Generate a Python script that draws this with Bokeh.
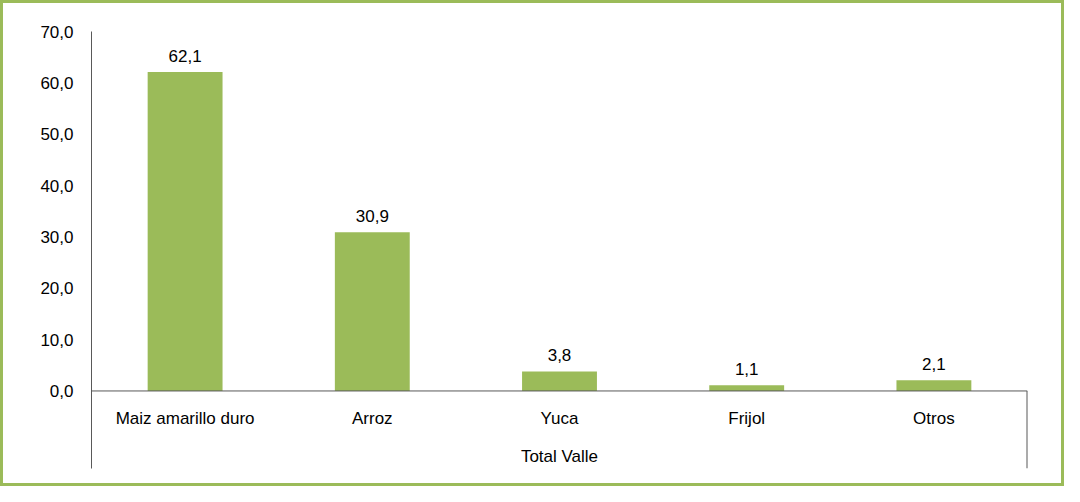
from bokeh.plotting import figure
from bokeh.models import Range1d, FactorRange, FixedTicker, ColumnDataSource, LabelSet, Span
from bokeh.core.properties import value
from bokeh.embed import file_html
from bokeh.resources import INLINE

# ---- data ----
group = "Total Valle"
categories = ["Maiz amarillo duro", "Arroz", "Yuca", "Frijol", "Otros"]
values = [62.1, 30.9, 3.8, 1.1, 2.1]
y_ticks = [0, 10, 20, 30, 40, 50, 60, 70]
y_tick_labels = ["0,0", "10,0", "20,0", "30,0", "40,0", "50,0", "60,0", "70,0"]

GREEN = "#9BBB59"
AXIS = "#595959"
FONT = "Liberation Sans"
FS = "17px"

factors = [(group, c) for c in categories]
value_labels = [f"{v:.1f}".replace(".", ",") for v in values]
y_bottom = -15.1

src = ColumnDataSource(dict(x=factors, cat=categories, v=values, lab=value_labels,
                            zero=[0] * len(values)))

p = figure(width=1064, height=486, output_backend="svg", toolbar_location=None,
           x_range=FactorRange(*factors, range_padding=0, factor_padding=0,
                               group_padding=0, subgroup_padding=0),
           y_range=Range1d(y_bottom, 70),
           min_border_left=88, min_border_right=40, min_border_top=28, min_border_bottom=21)
p.styles = {"border": f"3px solid {GREEN}"}
p.outline_line_color = None
p.xgrid.visible = False
p.ygrid.visible = False
p.xaxis.visible = False

yax = p.yaxis[0]
yax.ticker = FixedTicker(ticks=y_ticks)
yax.major_label_overrides = dict(zip(y_ticks, y_tick_labels))
yax.major_tick_line_color = None
yax.minor_tick_line_color = None
yax.major_tick_out = 0
yax.major_tick_in = 0
yax.major_label_standoff = 18
yax.axis_line_color = AXIS
yax.axis_line_width = 1
yax.major_label_text_font = FONT
yax.major_label_text_font_size = FS
yax.major_label_text_color = "#000000"

p.vbar(x="x", top="v", bottom=0, width=0.4, source=src, fill_color=GREEN, line_color=None)

p.add_layout(Span(location=0, dimension="width", line_color=AXIS, line_width=1))
n = len(categories)
p.segment(x0=[n], y0=[0], x1=[n], y1=[y_bottom], line_color=AXIS, line_width=2)

p.add_layout(LabelSet(x="x", y="v", text="lab", source=src, y_offset=10,
                      text_align="center", text_baseline="alphabetic",
                      text_font=value(FONT), text_font_size=FS, text_color="#000000"))
p.add_layout(LabelSet(x="x", y="zero", text="cat", source=src, y_offset=-33,
                      text_align="center", text_baseline="alphabetic",
                      text_font=value(FONT), text_font_size=FS, text_color="#000000"))
gsrc = ColumnDataSource(dict(x=[group], y=[0], t=[group]))
p.add_layout(LabelSet(x="x", y="y", text="t", source=gsrc, y_offset=-71,
                      text_align="center", text_baseline="alphabetic",
                      text_font=value(FONT), text_font_size=FS, text_color="#000000"))

open("out.html", "w").write(file_html(p, INLINE))
